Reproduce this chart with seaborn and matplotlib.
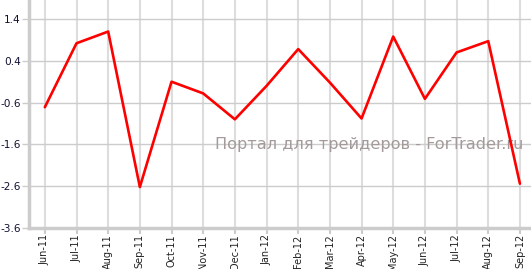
import matplotlib
matplotlib.use("Agg")
import matplotlib.pyplot as plt
import seaborn as sns
import pandas as pd

months = ["Jun-11", "Jul-11", "Aug-11", "Sep-11", "Oct-11", "Nov-11", "Dec-11",
          "Jan-12", "Feb-12", "Mar-12", "Apr-12", "May-12", "Jun-12", "Jul-12",
          "Aug-12", "Sep-12"]
values = [-0.71, 0.82, 1.10, -2.62, -0.10, -0.38, -1.00,
          -0.20, 0.68, -0.12, -0.98, 0.98, -0.51, 0.60,
          0.87, -2.54]
y_ticks = [-3.6, -2.6, -1.6, -0.6, 0.4, 1.4]
watermark = "Портал для трейдеров - ForTrader.ru"

sns.set_theme(style="white")
plt.rcParams['font.family'] = ['DejaVu Sans']

df = pd.DataFrame({"idx": range(len(months)), "month": months, "value": values})

fig = plt.figure(figsize=(5.31, 2.69), dpi=100)
ax = fig.add_axes([29/531, 1 - 228/269, 1 - 29/531, 228/269])

sns.lineplot(data=df, x="idx", y="value", ax=ax, color="#ff0000", linewidth=1.9, zorder=3)

ax.set_xlim(-0.5, 15.35)
ax.set_ylim(-3.6, 1.855)
ax.set_xticks(range(len(months)))
ax.set_xticklabels(months, rotation=90, fontsize=7, color="#222222")
ax.set_yticks(y_ticks)
ax.set_yticklabels([f"{v:.1f}" for v in y_ticks], fontsize=7.6, color="#111133")
ax.set_xlabel("")
ax.set_ylabel("")

ax.grid(True, axis="y", color="#cccccc", linewidth=1.0, zorder=0)
ax.grid(True, axis="x", color="#dddddd", linewidth=1.5, zorder=0)

for s in ["top", "right"]:
    ax.spines[s].set_visible(False)
for s in ["left", "bottom"]:
    ax.spines[s].set_color("#cccccc")
    ax.spines[s].set_linewidth(2.5)

ax.tick_params(axis="y", length=5, width=1, color="#cccccc", pad=1, left=True)
ax.tick_params(axis="x", length=4, width=1.5, color="#cccccc", pad=0.5, bottom=True)

ax.text(369, 269 - 145, watermark, transform=None, fontsize=11.6, color="#a49a9a",
        ha="center", va="center", zorder=2)

fig.savefig("out.png", dpi=100)
